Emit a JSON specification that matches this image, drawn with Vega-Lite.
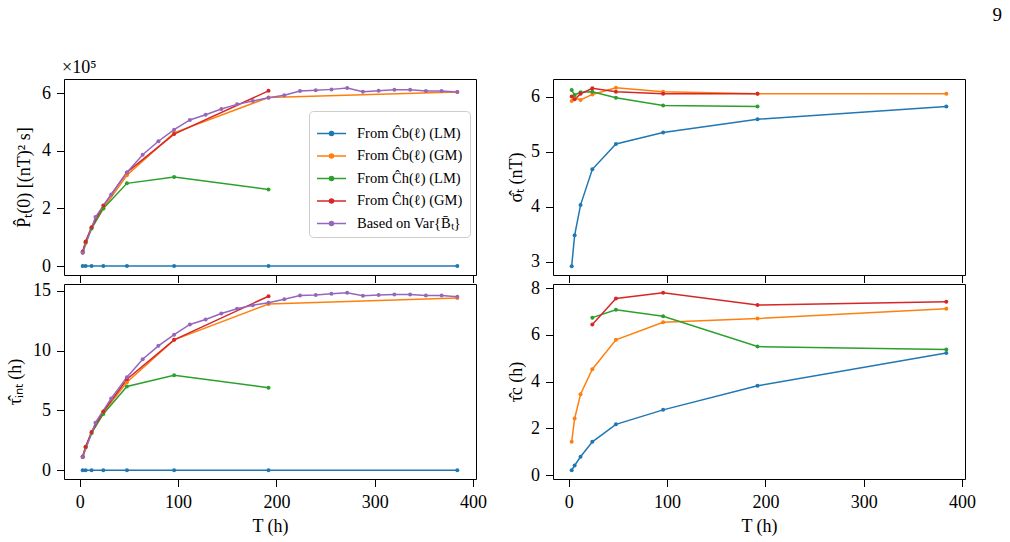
{
  "$schema": "https://vega.github.io/schema/vega-lite/v6.json",
  "background": "white",
  "padding": {"left": 6, "top": 5, "right": 5, "bottom": 5},
  "config": {
    "font": "Liberation Serif",
    "view": {"stroke": "black", "strokeWidth": 1},
    "axis": {"domain": false, "grid": false, "tickColor": "black", "tickSize": 7.5, "tickWidth": 1,
      "labelFontSize": 18, "labelColor": "black", "labelPadding": 6, "labelFlush": false, "labelOverlap": false,
      "titleFontSize": 18, "titleFontWeight": "normal", "titleColor": "black"},
    "axisY": {"titlePadding": 8},
    "axisX": {"titlePadding": 6}
  },
  "title": {"text": "9", "anchor": "end", "fontSize": 19, "fontWeight": "normal", "color": "black", "dx": 26, "offset": 34},
  "data": {"values": [
    {"panel": "P", "series": "b_LM", "T": 3, "v": 0}, {"panel": "P", "series": "b_LM", "T": 6, "v": 0}, {"panel": "P", "series": "b_LM", "T": 12, "v": 0}, {"panel": "P", "series": "b_LM", "T": 24, "v": 0}, {"panel": "P", "series": "b_LM", "T": 48, "v": 0}, {"panel": "P", "series": "b_LM", "T": 96, "v": 0}, {"panel": "P", "series": "b_LM", "T": 192, "v": 0}, {"panel": "P", "series": "b_LM", "T": 384, "v": 0},
    {"panel": "P", "series": "b_GM", "T": 3, "v": 0.46}, {"panel": "P", "series": "b_GM", "T": 6, "v": 0.8}, {"panel": "P", "series": "b_GM", "T": 12, "v": 1.32}, {"panel": "P", "series": "b_GM", "T": 24, "v": 2.0}, {"panel": "P", "series": "b_GM", "T": 48, "v": 3.15}, {"panel": "P", "series": "b_GM", "T": 96, "v": 4.62}, {"panel": "P", "series": "b_GM", "T": 192, "v": 5.85}, {"panel": "P", "series": "b_GM", "T": 384, "v": 6.04},
    {"panel": "P", "series": "h_LM", "T": 3, "v": 0.5}, {"panel": "P", "series": "h_LM", "T": 6, "v": 0.82}, {"panel": "P", "series": "h_LM", "T": 12, "v": 1.3}, {"panel": "P", "series": "h_LM", "T": 24, "v": 2.0}, {"panel": "P", "series": "h_LM", "T": 48, "v": 2.87}, {"panel": "P", "series": "h_LM", "T": 96, "v": 3.09}, {"panel": "P", "series": "h_LM", "T": 192, "v": 2.66},
    {"panel": "P", "series": "h_GM", "T": 3, "v": 0.5}, {"panel": "P", "series": "h_GM", "T": 6, "v": 0.85}, {"panel": "P", "series": "h_GM", "T": 12, "v": 1.35}, {"panel": "P", "series": "h_GM", "T": 24, "v": 2.1}, {"panel": "P", "series": "h_GM", "T": 48, "v": 3.25}, {"panel": "P", "series": "h_GM", "T": 96, "v": 4.58}, {"panel": "P", "series": "h_GM", "T": 192, "v": 6.08},
    {"panel": "P", "series": "var", "T": 3, "v": 0.46}, {"panel": "P", "series": "var", "T": 16, "v": 1.7}, {"panel": "P", "series": "var", "T": 32, "v": 2.48}, {"panel": "P", "series": "var", "T": 48, "v": 3.25}, {"panel": "P", "series": "var", "T": 64, "v": 3.86}, {"panel": "P", "series": "var", "T": 80, "v": 4.33}, {"panel": "P", "series": "var", "T": 96, "v": 4.73}, {"panel": "P", "series": "var", "T": 112, "v": 5.07}, {"panel": "P", "series": "var", "T": 128, "v": 5.25}, {"panel": "P", "series": "var", "T": 144, "v": 5.45}, {"panel": "P", "series": "var", "T": 160, "v": 5.61}, {"panel": "P", "series": "var", "T": 176, "v": 5.73}, {"panel": "P", "series": "var", "T": 192, "v": 5.84}, {"panel": "P", "series": "var", "T": 208, "v": 5.93}, {"panel": "P", "series": "var", "T": 224, "v": 6.07}, {"panel": "P", "series": "var", "T": 240, "v": 6.1}, {"panel": "P", "series": "var", "T": 256, "v": 6.13}, {"panel": "P", "series": "var", "T": 272, "v": 6.18}, {"panel": "P", "series": "var", "T": 288, "v": 6.05}, {"panel": "P", "series": "var", "T": 304, "v": 6.08}, {"panel": "P", "series": "var", "T": 320, "v": 6.12}, {"panel": "P", "series": "var", "T": 336, "v": 6.12}, {"panel": "P", "series": "var", "T": 352, "v": 6.07}, {"panel": "P", "series": "var", "T": 368, "v": 6.07}, {"panel": "P", "series": "var", "T": 384, "v": 6.04},

    {"panel": "S", "series": "b_LM", "T": 3, "v": 2.92}, {"panel": "S", "series": "b_LM", "T": 6, "v": 3.48}, {"panel": "S", "series": "b_LM", "T": 12, "v": 4.03}, {"panel": "S", "series": "b_LM", "T": 24, "v": 4.68}, {"panel": "S", "series": "b_LM", "T": 48, "v": 5.14}, {"panel": "S", "series": "b_LM", "T": 96, "v": 5.35}, {"panel": "S", "series": "b_LM", "T": 192, "v": 5.59}, {"panel": "S", "series": "b_LM", "T": 384, "v": 5.82},
    {"panel": "S", "series": "b_GM", "T": 3, "v": 5.92}, {"panel": "S", "series": "b_GM", "T": 6, "v": 5.98}, {"panel": "S", "series": "b_GM", "T": 12, "v": 5.94}, {"panel": "S", "series": "b_GM", "T": 24, "v": 6.04}, {"panel": "S", "series": "b_GM", "T": 48, "v": 6.16}, {"panel": "S", "series": "b_GM", "T": 96, "v": 6.09}, {"panel": "S", "series": "b_GM", "T": 192, "v": 6.05}, {"panel": "S", "series": "b_GM", "T": 384, "v": 6.05},
    {"panel": "S", "series": "h_LM", "T": 3, "v": 6.12}, {"panel": "S", "series": "h_LM", "T": 6, "v": 6.03}, {"panel": "S", "series": "h_LM", "T": 12, "v": 6.08}, {"panel": "S", "series": "h_LM", "T": 24, "v": 6.09}, {"panel": "S", "series": "h_LM", "T": 48, "v": 5.98}, {"panel": "S", "series": "h_LM", "T": 96, "v": 5.84}, {"panel": "S", "series": "h_LM", "T": 192, "v": 5.82},
    {"panel": "S", "series": "h_GM", "T": 3, "v": 6.0}, {"panel": "S", "series": "h_GM", "T": 6, "v": 5.95}, {"panel": "S", "series": "h_GM", "T": 12, "v": 6.05}, {"panel": "S", "series": "h_GM", "T": 24, "v": 6.15}, {"panel": "S", "series": "h_GM", "T": 48, "v": 6.09}, {"panel": "S", "series": "h_GM", "T": 96, "v": 6.05}, {"panel": "S", "series": "h_GM", "T": 192, "v": 6.05},

    {"panel": "I", "series": "b_LM", "T": 3, "v": 0}, {"panel": "I", "series": "b_LM", "T": 6, "v": 0}, {"panel": "I", "series": "b_LM", "T": 12, "v": 0}, {"panel": "I", "series": "b_LM", "T": 24, "v": 0}, {"panel": "I", "series": "b_LM", "T": 48, "v": 0}, {"panel": "I", "series": "b_LM", "T": 96, "v": 0}, {"panel": "I", "series": "b_LM", "T": 192, "v": 0}, {"panel": "I", "series": "b_LM", "T": 384, "v": 0},
    {"panel": "I", "series": "b_GM", "T": 3, "v": 1.1}, {"panel": "I", "series": "b_GM", "T": 6, "v": 1.9}, {"panel": "I", "series": "b_GM", "T": 12, "v": 3.1}, {"panel": "I", "series": "b_GM", "T": 24, "v": 4.85}, {"panel": "I", "series": "b_GM", "T": 48, "v": 7.35}, {"panel": "I", "series": "b_GM", "T": 96, "v": 10.9}, {"panel": "I", "series": "b_GM", "T": 192, "v": 13.9}, {"panel": "I", "series": "b_GM", "T": 384, "v": 14.4},
    {"panel": "I", "series": "h_LM", "T": 3, "v": 1.1}, {"panel": "I", "series": "h_LM", "T": 6, "v": 1.95}, {"panel": "I", "series": "h_LM", "T": 12, "v": 3.1}, {"panel": "I", "series": "h_LM", "T": 24, "v": 4.7}, {"panel": "I", "series": "h_LM", "T": 48, "v": 7.0}, {"panel": "I", "series": "h_LM", "T": 96, "v": 7.94}, {"panel": "I", "series": "h_LM", "T": 192, "v": 6.89},
    {"panel": "I", "series": "h_GM", "T": 3, "v": 1.15}, {"panel": "I", "series": "h_GM", "T": 6, "v": 1.94}, {"panel": "I", "series": "h_GM", "T": 12, "v": 3.2}, {"panel": "I", "series": "h_GM", "T": 24, "v": 4.9}, {"panel": "I", "series": "h_GM", "T": 48, "v": 7.6}, {"panel": "I", "series": "h_GM", "T": 96, "v": 10.9}, {"panel": "I", "series": "h_GM", "T": 192, "v": 14.55},
    {"panel": "I", "series": "var", "T": 3, "v": 1.11}, {"panel": "I", "series": "var", "T": 16, "v": 3.97}, {"panel": "I", "series": "var", "T": 32, "v": 6.0}, {"panel": "I", "series": "var", "T": 48, "v": 7.78}, {"panel": "I", "series": "var", "T": 64, "v": 9.28}, {"panel": "I", "series": "var", "T": 80, "v": 10.4}, {"panel": "I", "series": "var", "T": 96, "v": 11.33}, {"panel": "I", "series": "var", "T": 112, "v": 12.19}, {"panel": "I", "series": "var", "T": 128, "v": 12.6}, {"panel": "I", "series": "var", "T": 144, "v": 13.1}, {"panel": "I", "series": "var", "T": 160, "v": 13.5}, {"panel": "I", "series": "var", "T": 176, "v": 13.8}, {"panel": "I", "series": "var", "T": 192, "v": 14.0}, {"panel": "I", "series": "var", "T": 208, "v": 14.3}, {"panel": "I", "series": "var", "T": 224, "v": 14.6}, {"panel": "I", "series": "var", "T": 240, "v": 14.64}, {"panel": "I", "series": "var", "T": 256, "v": 14.75}, {"panel": "I", "series": "var", "T": 272, "v": 14.83}, {"panel": "I", "series": "var", "T": 288, "v": 14.58}, {"panel": "I", "series": "var", "T": 304, "v": 14.64}, {"panel": "I", "series": "var", "T": 320, "v": 14.7}, {"panel": "I", "series": "var", "T": 336, "v": 14.7}, {"panel": "I", "series": "var", "T": 352, "v": 14.6}, {"panel": "I", "series": "var", "T": 368, "v": 14.6}, {"panel": "I", "series": "var", "T": 384, "v": 14.5},

    {"panel": "C", "series": "b_LM", "T": 3, "v": 0.21}, {"panel": "C", "series": "b_LM", "T": 6, "v": 0.41}, {"panel": "C", "series": "b_LM", "T": 12, "v": 0.78}, {"panel": "C", "series": "b_LM", "T": 24, "v": 1.42}, {"panel": "C", "series": "b_LM", "T": 48, "v": 2.17}, {"panel": "C", "series": "b_LM", "T": 96, "v": 2.79}, {"panel": "C", "series": "b_LM", "T": 192, "v": 3.82}, {"panel": "C", "series": "b_LM", "T": 384, "v": 5.23},
    {"panel": "C", "series": "b_GM", "T": 3, "v": 1.43}, {"panel": "C", "series": "b_GM", "T": 6, "v": 2.42}, {"panel": "C", "series": "b_GM", "T": 12, "v": 3.46}, {"panel": "C", "series": "b_GM", "T": 24, "v": 4.53}, {"panel": "C", "series": "b_GM", "T": 48, "v": 5.79}, {"panel": "C", "series": "b_GM", "T": 96, "v": 6.54}, {"panel": "C", "series": "b_GM", "T": 192, "v": 6.7}, {"panel": "C", "series": "b_GM", "T": 384, "v": 7.12},
    {"panel": "C", "series": "h_LM", "T": 24, "v": 6.74}, {"panel": "C", "series": "h_LM", "T": 48, "v": 7.08}, {"panel": "C", "series": "h_LM", "T": 96, "v": 6.8}, {"panel": "C", "series": "h_LM", "T": 192, "v": 5.5}, {"panel": "C", "series": "h_LM", "T": 384, "v": 5.37},
    {"panel": "C", "series": "h_GM", "T": 24, "v": 6.45}, {"panel": "C", "series": "h_GM", "T": 48, "v": 7.56}, {"panel": "C", "series": "h_GM", "T": 96, "v": 7.8}, {"panel": "C", "series": "h_GM", "T": 192, "v": 7.28}, {"panel": "C", "series": "h_GM", "T": 384, "v": 7.42}
  ]},
  "columns": 2,
  "spacing": {"row": 9, "column": 77},
  "bounds": "flush",
  "resolve": {"scale": {"color": "independent"}, "legend": {"color": "independent"}},
  "concat": [
    {
      "width": 412, "height": 196,
      "title": {"text": "×10⁵", "anchor": "start", "frame": "group", "fontSize": 18, "fontWeight": "normal", "color": "black", "offset": 2, "dx": -2},
      "transform": [{"filter": "datum.panel === 'P'"}],
      "encoding": {
        "x": {"field": "T", "type": "quantitative", "scale": {"domain": [-16, 403], "nice": false, "zero": false}, "axis": {"values": [0, 100, 200, 300, 400], "labels": false, "title": null}},
        "y": {"field": "v", "type": "quantitative", "scale": {"domain": [-0.31, 6.49], "nice": false, "zero": false}, "axis": {"values": [0, 2, 4, 6], "title": "P̂ₜ(0) [(nT)² s]"}},
        "color": {"field": "series", "type": "nominal",
          "scale": {"domain": ["b_LM", "b_GM", "h_LM", "h_GM", "var"], "range": ["#1f77b4", "#ff7f0e", "#2ca02c", "#d62728", "#9467bd"]},
          "legend": {"orient": "none", "legendX": 245, "legendY": 32, "title": null,
            "labelExpr": "datum.value === 'b_LM' ? 'From Ĉb(ℓ) (LM)' : datum.value === 'b_GM' ? 'From Ĉb(ℓ) (GM)' : datum.value === 'h_LM' ? 'From Ĉh(ℓ) (LM)' : datum.value === 'h_GM' ? 'From Ĉh(ℓ) (GM)' : 'Based on Var{B̄ₜ}'",
            "labelFontSize": 14.5, "labelColor": "black", "labelOffset": 10,
            "symbolType": "M-1,0H1M-0.14,0a0.14,0.14 0 1,0 0.28,0a0.14,0.14 0 1,0 -0.28,0",
            "symbolSize": 841, "symbolStrokeWidth": 1.5,
            "fillColor": "rgba(255,255,255,0.8)", "strokeColor": "#cccccc", "cornerRadius": 4, "padding": 7, "rowPadding": 0.5}
        }
      },
      "layer": [
        {"mark": {"type": "line", "strokeWidth": 1.5}},
        {"mark": {"type": "point", "filled": true, "size": 16, "opacity": 1}}
      ]
    },
    {
      "width": 412, "height": 196,
      "transform": [{"filter": "datum.panel === 'S'"}],
      "encoding": {
        "x": {"field": "T", "type": "quantitative", "scale": {"domain": [-16, 403], "nice": false, "zero": false}, "axis": {"values": [0, 100, 200, 300, 400], "labels": false, "title": null}},
        "y": {"field": "v", "type": "quantitative", "scale": {"domain": [2.76, 6.32], "nice": false, "zero": false}, "axis": {"values": [3, 4, 5, 6], "title": "σ̂ₜ (nT)", "titlePadding": 5}},
        "color": {"field": "series", "type": "nominal",
          "scale": {"domain": ["b_LM", "b_GM", "h_LM", "h_GM", "var"], "range": ["#1f77b4", "#ff7f0e", "#2ca02c", "#d62728", "#9467bd"]}, "legend": null}
      },
      "layer": [
        {"mark": {"type": "line", "strokeWidth": 1.5}},
        {"mark": {"type": "point", "filled": true, "size": 16, "opacity": 1}}
      ]
    },
    {
      "width": 412, "height": 195,
      "transform": [{"filter": "datum.panel === 'I'"}],
      "encoding": {
        "x": {"field": "T", "type": "quantitative", "scale": {"domain": [-16, 403], "nice": false, "zero": false}, "axis": {"values": [0, 100, 200, 300, 400], "title": "T (h)", "labelPadding": 7}},
        "y": {"field": "v", "type": "quantitative", "scale": {"domain": [-0.74, 15.57], "nice": false, "zero": false}, "axis": {"values": [0, 5, 10, 15], "title": "τ̂ᵢₙₜ (h)"}},
        "color": {"field": "series", "type": "nominal",
          "scale": {"domain": ["b_LM", "b_GM", "h_LM", "h_GM", "var"], "range": ["#1f77b4", "#ff7f0e", "#2ca02c", "#d62728", "#9467bd"]}, "legend": null}
      },
      "layer": [
        {"mark": {"type": "line", "strokeWidth": 1.5}},
        {"mark": {"type": "point", "filled": true, "size": 16, "opacity": 1}}
      ]
    },
    {
      "width": 412, "height": 195,
      "transform": [{"filter": "datum.panel === 'C'"}],
      "encoding": {
        "x": {"field": "T", "type": "quantitative", "scale": {"domain": [-16, 403], "nice": false, "zero": false}, "axis": {"values": [0, 100, 200, 300, 400], "title": "T (h)", "labelPadding": 7}},
        "y": {"field": "v", "type": "quantitative", "scale": {"domain": [-0.17, 8.18], "nice": false, "zero": false}, "axis": {"values": [0, 2, 4, 6, 8], "title": "τ̂c (h)", "titlePadding": 5}},
        "color": {"field": "series", "type": "nominal",
          "scale": {"domain": ["b_LM", "b_GM", "h_LM", "h_GM", "var"], "range": ["#1f77b4", "#ff7f0e", "#2ca02c", "#d62728", "#9467bd"]}, "legend": null}
      },
      "layer": [
        {"mark": {"type": "line", "strokeWidth": 1.5}},
        {"mark": {"type": "point", "filled": true, "size": 16, "opacity": 1}}
      ]
    }
  ]
}
